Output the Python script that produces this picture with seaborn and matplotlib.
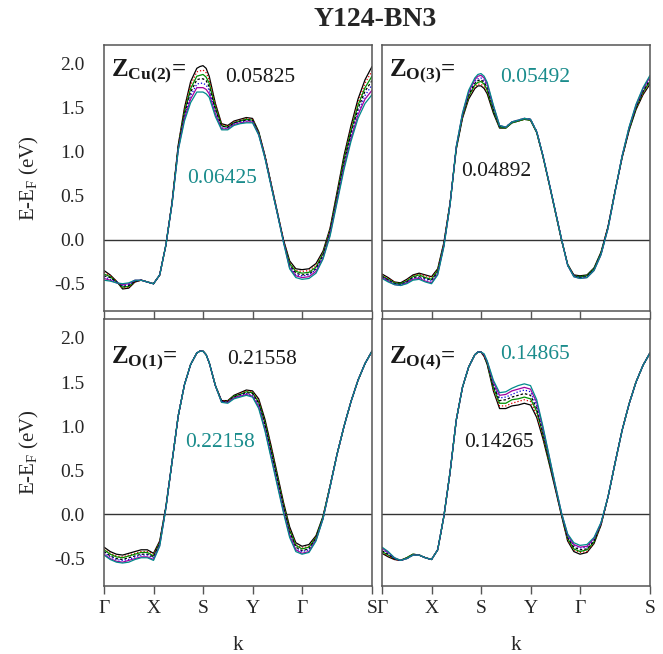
import numpy as np
import pandas as pd
import matplotlib
matplotlib.use("Agg")
import matplotlib.pyplot as plt
import seaborn as sns

# k-path positions: Γ-X-S-Y-Γ-S (Γ-X = 1, Γ-S diagonal = √2)
K_PATH = [0.0, 0.125, 0.25, 0.375, 0.5, 0.625, 0.75, 0.875,
          1.0, 1.125, 1.25, 1.375, 1.5, 1.625, 1.75, 1.875, 1.9375,
          2.0, 2.0625, 2.125, 2.25, 2.375, 2.5, 2.625, 2.75, 2.875,
          3.0, 3.125, 3.25, 3.375, 3.5, 3.625, 3.75, 3.875,
          4.0, 4.141, 4.283, 4.424, 4.566, 4.707, 4.849, 4.990,
          5.131, 5.273, 5.414]
K_TICKS = [0.0, 1.0, 2.0, 3.0, 4.0, 5.414]
K_LABELS = ["Γ", "X", "S", "Y", "Γ", "S"]

# Z parameters for each site (one band per value)
Z_CU2 = ["0.05825", "0.05925", "0.06025", "0.06125", "0.06225", "0.06325", "0.06425"]
Z_O3 = ["0.04892", "0.04992", "0.05092", "0.05192", "0.05292", "0.05392", "0.05492"]
Z_O1 = ["0.21558", "0.21658", "0.21758", "0.21858", "0.21958", "0.22058", "0.22158"]
Z_O4 = ["0.14265", "0.14365", "0.14465", "0.14565", "0.14665", "0.14765", "0.14865"]

# E - E_F (eV); one row per k point, one column per Z value
E_CU2 = [
    [-0.35, -0.37, -0.39, -0.41, -0.42, -0.44, -0.46],
    [-0.40, -0.41, -0.42, -0.43, -0.45, -0.46, -0.47],
    [-0.47, -0.47, -0.48, -0.48, -0.48, -0.49, -0.49],
    [-0.56, -0.55, -0.54, -0.53, -0.52, -0.51, -0.50],
    [-0.55, -0.54, -0.53, -0.52, -0.51, -0.50, -0.49],
    [-0.48, -0.48, -0.47, -0.47, -0.47, -0.46, -0.46],
    [-0.46, -0.46, -0.46, -0.46, -0.46, -0.46, -0.46],
    [-0.48, -0.48, -0.48, -0.48, -0.48, -0.48, -0.48],
    [-0.50, -0.50, -0.50, -0.50, -0.50, -0.50, -0.50],
    [-0.40, -0.40, -0.40, -0.40, -0.40, -0.40, -0.40],
    [-0.06, -0.06, -0.06, -0.06, -0.06, -0.06, -0.06],
    [0.43, 0.43, 0.42, 0.42, 0.42, 0.41, 0.41],
    [1.08, 1.07, 1.06, 1.05, 1.04, 1.03, 1.02],
    [1.50, 1.48, 1.45, 1.43, 1.40, 1.38, 1.35],
    [1.80, 1.76, 1.72, 1.68, 1.64, 1.60, 1.56],
    [1.95, 1.91, 1.86, 1.82, 1.77, 1.73, 1.68],
    [1.97, 1.92, 1.87, 1.83, 1.78, 1.73, 1.68],
    [1.98, 1.93, 1.88, 1.83, 1.78, 1.73, 1.68],
    [1.95, 1.90, 1.85, 1.81, 1.76, 1.71, 1.66],
    [1.86, 1.82, 1.78, 1.74, 1.70, 1.66, 1.62],
    [1.55, 1.53, 1.50, 1.48, 1.45, 1.43, 1.40],
    [1.32, 1.31, 1.30, 1.29, 1.27, 1.26, 1.25],
    [1.30, 1.29, 1.28, 1.28, 1.27, 1.26, 1.25],
    [1.35, 1.34, 1.33, 1.33, 1.32, 1.31, 1.30],
    [1.37, 1.36, 1.35, 1.35, 1.34, 1.33, 1.32],
    [1.39, 1.38, 1.37, 1.36, 1.35, 1.34, 1.33],
    [1.38, 1.37, 1.36, 1.36, 1.35, 1.34, 1.33],
    [1.23, 1.22, 1.22, 1.21, 1.20, 1.20, 1.19],
    [0.96, 0.96, 0.95, 0.95, 0.94, 0.94, 0.93],
    [0.64, 0.64, 0.63, 0.63, 0.62, 0.62, 0.61],
    [0.32, 0.32, 0.31, 0.31, 0.31, 0.30, 0.30],
    [0.00, 0.00, -0.01, -0.01, -0.02, -0.02, -0.03],
    [-0.24, -0.26, -0.27, -0.29, -0.30, -0.32, -0.33],
    [-0.33, -0.35, -0.36, -0.38, -0.40, -0.41, -0.43],
    [-0.34, -0.36, -0.38, -0.40, -0.41, -0.43, -0.45],
    [-0.33, -0.35, -0.37, -0.39, -0.40, -0.42, -0.44],
    [-0.27, -0.29, -0.31, -0.33, -0.34, -0.36, -0.38],
    [-0.13, -0.15, -0.16, -0.18, -0.19, -0.21, -0.22],
    [0.13, 0.12, 0.10, 0.09, 0.07, 0.06, 0.04],
    [0.54, 0.52, 0.50, 0.48, 0.46, 0.44, 0.42],
    [0.96, 0.93, 0.91, 0.88, 0.85, 0.83, 0.80],
    [1.30, 1.27, 1.24, 1.21, 1.18, 1.15, 1.12],
    [1.60, 1.56, 1.53, 1.49, 1.45, 1.42, 1.38],
    [1.82, 1.78, 1.73, 1.69, 1.64, 1.60, 1.55],
    [1.97, 1.92, 1.86, 1.81, 1.76, 1.70, 1.65],
]

E_O3 = [
    [-0.39, -0.40, -0.41, -0.42, -0.42, -0.43, -0.44],
    [-0.43, -0.44, -0.45, -0.46, -0.46, -0.47, -0.48],
    [-0.48, -0.48, -0.49, -0.50, -0.50, -0.51, -0.51],
    [-0.49, -0.50, -0.50, -0.51, -0.51, -0.52, -0.52],
    [-0.45, -0.46, -0.47, -0.48, -0.48, -0.49, -0.50],
    [-0.40, -0.41, -0.42, -0.43, -0.44, -0.45, -0.46],
    [-0.38, -0.39, -0.40, -0.42, -0.43, -0.44, -0.45],
    [-0.40, -0.41, -0.43, -0.44, -0.45, -0.47, -0.48],
    [-0.42, -0.43, -0.45, -0.46, -0.47, -0.49, -0.50],
    [-0.33, -0.34, -0.35, -0.37, -0.38, -0.39, -0.40],
    [-0.03, -0.04, -0.05, -0.06, -0.06, -0.07, -0.08],
    [0.42, 0.42, 0.41, 0.41, 0.41, 0.40, 0.40],
    [1.03, 1.04, 1.04, 1.05, 1.05, 1.06, 1.06],
    [1.38, 1.39, 1.40, 1.41, 1.42, 1.43, 1.44],
    [1.60, 1.62, 1.63, 1.65, 1.67, 1.68, 1.70],
    [1.72, 1.74, 1.76, 1.78, 1.80, 1.82, 1.84],
    [1.75, 1.77, 1.79, 1.81, 1.83, 1.86, 1.88],
    [1.75, 1.77, 1.80, 1.82, 1.84, 1.87, 1.89],
    [1.72, 1.74, 1.77, 1.79, 1.81, 1.84, 1.86],
    [1.66, 1.68, 1.70, 1.73, 1.75, 1.77, 1.79],
    [1.44, 1.46, 1.47, 1.49, 1.50, 1.52, 1.53],
    [1.27, 1.28, 1.28, 1.29, 1.29, 1.30, 1.30],
    [1.27, 1.27, 1.27, 1.28, 1.28, 1.28, 1.28],
    [1.33, 1.33, 1.33, 1.34, 1.34, 1.34, 1.34],
    [1.35, 1.35, 1.35, 1.36, 1.36, 1.36, 1.36],
    [1.37, 1.37, 1.37, 1.38, 1.38, 1.38, 1.38],
    [1.36, 1.36, 1.36, 1.37, 1.37, 1.37, 1.37],
    [1.22, 1.22, 1.22, 1.23, 1.23, 1.23, 1.23],
    [0.95, 0.95, 0.95, 0.96, 0.96, 0.96, 0.96],
    [0.64, 0.64, 0.64, 0.65, 0.65, 0.65, 0.65],
    [0.32, 0.32, 0.32, 0.33, 0.33, 0.33, 0.33],
    [0.00, 0.00, 0.00, 0.01, 0.01, 0.01, 0.01],
    [-0.28, -0.28, -0.28, -0.29, -0.29, -0.29, -0.29],
    [-0.40, -0.40, -0.41, -0.41, -0.41, -0.42, -0.42],
    [-0.41, -0.42, -0.42, -0.43, -0.43, -0.44, -0.44],
    [-0.40, -0.41, -0.41, -0.42, -0.42, -0.43, -0.43],
    [-0.32, -0.33, -0.33, -0.34, -0.34, -0.35, -0.35],
    [-0.14, -0.15, -0.15, -0.16, -0.16, -0.17, -0.17],
    [0.15, 0.15, 0.14, 0.14, 0.14, 0.13, 0.13],
    [0.55, 0.55, 0.55, 0.55, 0.54, 0.54, 0.54],
    [0.93, 0.93, 0.94, 0.94, 0.94, 0.95, 0.95],
    [1.24, 1.25, 1.25, 1.26, 1.27, 1.27, 1.28],
    [1.48, 1.49, 1.50, 1.51, 1.52, 1.53, 1.54],
    [1.65, 1.66, 1.68, 1.69, 1.70, 1.72, 1.73],
    [1.77, 1.79, 1.80, 1.82, 1.84, 1.85, 1.87],
]

E_O1 = [
    [-0.37, -0.39, -0.40, -0.42, -0.43, -0.45, -0.46],
    [-0.42, -0.44, -0.45, -0.47, -0.48, -0.50, -0.51],
    [-0.45, -0.47, -0.48, -0.50, -0.51, -0.53, -0.54],
    [-0.46, -0.48, -0.49, -0.51, -0.52, -0.54, -0.55],
    [-0.44, -0.46, -0.47, -0.49, -0.51, -0.52, -0.54],
    [-0.42, -0.44, -0.45, -0.47, -0.48, -0.50, -0.51],
    [-0.40, -0.42, -0.43, -0.45, -0.46, -0.48, -0.49],
    [-0.40, -0.42, -0.43, -0.45, -0.46, -0.48, -0.49],
    [-0.44, -0.45, -0.47, -0.48, -0.49, -0.51, -0.52],
    [-0.30, -0.31, -0.32, -0.33, -0.34, -0.35, -0.36],
    [0.09, 0.09, 0.08, 0.08, 0.08, 0.07, 0.07],
    [0.60, 0.60, 0.60, 0.60, 0.60, 0.60, 0.60],
    [1.12, 1.12, 1.12, 1.12, 1.12, 1.12, 1.12],
    [1.47, 1.47, 1.47, 1.47, 1.47, 1.47, 1.47],
    [1.70, 1.70, 1.70, 1.70, 1.70, 1.70, 1.70],
    [1.83, 1.83, 1.83, 1.83, 1.83, 1.83, 1.83],
    [1.85, 1.85, 1.85, 1.85, 1.85, 1.85, 1.85],
    [1.85, 1.85, 1.85, 1.85, 1.85, 1.85, 1.85],
    [1.81, 1.81, 1.81, 1.81, 1.81, 1.81, 1.81],
    [1.72, 1.72, 1.72, 1.72, 1.72, 1.72, 1.72],
    [1.46, 1.46, 1.46, 1.46, 1.46, 1.46, 1.46],
    [1.29, 1.29, 1.28, 1.28, 1.28, 1.27, 1.27],
    [1.29, 1.29, 1.28, 1.28, 1.27, 1.27, 1.26],
    [1.35, 1.34, 1.34, 1.33, 1.32, 1.32, 1.31],
    [1.38, 1.37, 1.36, 1.36, 1.35, 1.34, 1.33],
    [1.41, 1.40, 1.39, 1.38, 1.37, 1.36, 1.35],
    [1.40, 1.39, 1.38, 1.37, 1.35, 1.34, 1.33],
    [1.31, 1.29, 1.27, 1.26, 1.24, 1.22, 1.20],
    [1.08, 1.06, 1.04, 1.02, 0.99, 0.97, 0.95],
    [0.78, 0.76, 0.73, 0.71, 0.69, 0.66, 0.64],
    [0.46, 0.44, 0.42, 0.40, 0.37, 0.35, 0.33],
    [0.14, 0.12, 0.10, 0.08, 0.06, 0.04, 0.02],
    [-0.14, -0.16, -0.18, -0.20, -0.22, -0.24, -0.26],
    [-0.32, -0.34, -0.35, -0.37, -0.39, -0.40, -0.42],
    [-0.36, -0.38, -0.39, -0.41, -0.42, -0.44, -0.45],
    [-0.34, -0.36, -0.37, -0.39, -0.40, -0.42, -0.43],
    [-0.24, -0.25, -0.26, -0.27, -0.28, -0.29, -0.30],
    [-0.02, -0.03, -0.03, -0.04, -0.04, -0.05, -0.05],
    [0.32, 0.32, 0.32, 0.32, 0.31, 0.31, 0.31],
    [0.68, 0.68, 0.68, 0.68, 0.68, 0.68, 0.68],
    [1.00, 1.00, 1.00, 1.00, 1.00, 1.00, 1.00],
    [1.28, 1.28, 1.28, 1.28, 1.28, 1.28, 1.28],
    [1.52, 1.52, 1.52, 1.52, 1.52, 1.52, 1.52],
    [1.71, 1.71, 1.71, 1.71, 1.71, 1.71, 1.71],
    [1.85, 1.85, 1.85, 1.85, 1.85, 1.85, 1.85],
]

E_O4 = [
    [-0.44, -0.43, -0.42, -0.41, -0.39, -0.38, -0.37],
    [-0.48, -0.47, -0.46, -0.45, -0.44, -0.43, -0.42],
    [-0.51, -0.51, -0.50, -0.50, -0.50, -0.49, -0.49],
    [-0.52, -0.52, -0.52, -0.52, -0.52, -0.52, -0.52],
    [-0.49, -0.49, -0.49, -0.50, -0.50, -0.50, -0.50],
    [-0.45, -0.45, -0.45, -0.46, -0.46, -0.46, -0.46],
    [-0.46, -0.46, -0.46, -0.46, -0.46, -0.46, -0.46],
    [-0.49, -0.49, -0.49, -0.49, -0.49, -0.49, -0.49],
    [-0.51, -0.51, -0.51, -0.51, -0.51, -0.51, -0.51],
    [-0.40, -0.40, -0.40, -0.40, -0.40, -0.40, -0.40],
    [-0.02, -0.02, -0.02, -0.02, -0.02, -0.02, -0.02],
    [0.48, 0.48, 0.48, 0.48, 0.48, 0.48, 0.48],
    [1.07, 1.07, 1.07, 1.07, 1.07, 1.07, 1.07],
    [1.44, 1.44, 1.44, 1.44, 1.44, 1.44, 1.44],
    [1.67, 1.67, 1.67, 1.67, 1.67, 1.67, 1.67],
    [1.81, 1.81, 1.81, 1.81, 1.81, 1.81, 1.81],
    [1.84, 1.84, 1.84, 1.84, 1.84, 1.84, 1.84],
    [1.84, 1.84, 1.84, 1.84, 1.84, 1.84, 1.84],
    [1.79, 1.79, 1.80, 1.80, 1.81, 1.81, 1.82],
    [1.70, 1.71, 1.71, 1.72, 1.73, 1.73, 1.74],
    [1.40, 1.42, 1.44, 1.46, 1.48, 1.50, 1.52],
    [1.20, 1.23, 1.26, 1.29, 1.32, 1.35, 1.38],
    [1.20, 1.23, 1.26, 1.30, 1.33, 1.36, 1.39],
    [1.23, 1.26, 1.30, 1.33, 1.36, 1.40, 1.43],
    [1.24, 1.28, 1.31, 1.35, 1.39, 1.42, 1.46],
    [1.26, 1.30, 1.33, 1.37, 1.41, 1.44, 1.48],
    [1.24, 1.28, 1.31, 1.35, 1.39, 1.42, 1.46],
    [1.10, 1.13, 1.17, 1.20, 1.23, 1.27, 1.30],
    [0.86, 0.88, 0.91, 0.93, 0.95, 0.98, 1.00],
    [0.58, 0.60, 0.61, 0.63, 0.64, 0.66, 0.67],
    [0.29, 0.30, 0.31, 0.32, 0.32, 0.33, 0.34],
    [-0.01, -0.01, 0.00, 0.01, 0.01, 0.02, 0.02],
    [-0.30, -0.29, -0.27, -0.26, -0.25, -0.23, -0.22],
    [-0.42, -0.40, -0.39, -0.37, -0.35, -0.34, -0.32],
    [-0.45, -0.43, -0.42, -0.40, -0.38, -0.37, -0.35],
    [-0.43, -0.42, -0.40, -0.39, -0.37, -0.36, -0.34],
    [-0.33, -0.32, -0.31, -0.30, -0.28, -0.27, -0.26],
    [-0.12, -0.12, -0.11, -0.11, -0.10, -0.10, -0.09],
    [0.20, 0.20, 0.20, 0.20, 0.20, 0.20, 0.20],
    [0.58, 0.58, 0.58, 0.58, 0.58, 0.58, 0.58],
    [0.95, 0.95, 0.95, 0.95, 0.95, 0.95, 0.95],
    [1.25, 1.25, 1.25, 1.25, 1.25, 1.25, 1.25],
    [1.50, 1.50, 1.50, 1.50, 1.50, 1.50, 1.50],
    [1.69, 1.69, 1.69, 1.69, 1.69, 1.69, 1.69],
    [1.83, 1.83, 1.83, 1.83, 1.83, 1.83, 1.83],
]

LINE_COLORS = ["black", "#e00000", "#009000", "black", "#0000e0", "#a000a0", "#008b8b"]
LINE_DASHES = ["", (1, 1.6), "", (2, 1.6), (1, 1.6), "", ""]
TEAL = "#1a8c8c"
FRAME = "#555555"

sns.set_theme(style="white")
plt.rcParams["font.family"] = ["Liberation Serif", "DejaVu Serif"]
plt.rcParams["mathtext.fontset"] = "custom"
plt.rcParams["mathtext.rm"] = "Liberation Serif"
plt.rcParams["mathtext.bf"] = "Liberation Serif:bold"
plt.rcParams["mathtext.it"] = "Liberation Serif:italic"

fig = plt.figure(figsize=(6.63, 6.54), dpi=100)
fig.patch.set_facecolor("white")

boxes = {
    "tl": [0.1569, 0.5245, 0.4042, 0.4067],
    "tr": [0.5762, 0.5245, 0.4042, 0.4067],
    "bl": [0.1569, 0.1040, 0.4042, 0.4083],
    "br": [0.5762, 0.1040, 0.4042, 0.4083],
}

panels = [
    # key, table, z values, site label, label height, first-Z text, last-Z text
    ("tl", E_CU2, Z_CU2, r"$\mathbf{Z}_{\mathbf{Cu(2)}}$=", 1.86, (2.44, 1.79), (1.68, 0.64)),
    ("tr", E_O3, Z_O3, r"$\mathbf{Z}_{\mathbf{O(3)}}$=", 1.86, (1.59, 0.72), (2.39, 1.79)),
    ("bl", E_O1, Z_O1, r"$\mathbf{Z}_{\mathbf{O(1)}}$=", 1.72, (2.48, 1.71), (1.64, 0.77)),
    ("br", E_O4, Z_O4, r"$\mathbf{Z}_{\mathbf{O(4)}}$=", 1.72, (1.65, 0.77), (2.39, 1.76)),
]

for key, table, zvals, site, site_y, pos_first, pos_last in panels:
    ax = fig.add_axes(boxes[key])
    arr = np.array(table)
    frames = []
    for j, z in enumerate(zvals):
        frames.append(pd.DataFrame({"k": K_PATH, "E": arr[:, j], "Z": z}))
    df = pd.concat(frames, ignore_index=True)
    sns.lineplot(data=df, x="k", y="E", hue="Z", style="Z",
                 palette=dict(zip(zvals, LINE_COLORS)),
                 dashes=dict(zip(zvals, LINE_DASHES)),
                 estimator=None, sort=False, legend=False,
                 linewidth=0.9, ax=ax)
    ax.axhline(0.0, color="#333333", lw=1.0, zorder=0)

    ax.set_xlim(0.0, 5.414)
    ax.set_ylim(-0.81, 2.215)
    ax.set_yticks([-0.5, 0.0, 0.5, 1.0, 1.5, 2.0])
    ax.set_xticks(K_TICKS)
    for sp in ax.spines.values():
        sp.set_color(FRAME)
        sp.set_linewidth(1.1)
    ax.tick_params(axis="both", direction="out", length=6, width=1.0,
                   color=FRAME, labelsize=14, pad=4)
    ax.set_xlabel("")
    ax.set_ylabel("")

    is_left = key in ("tl", "bl")
    is_bottom = key in ("bl", "br")
    if is_left:
        ax.set_yticklabels(["-0.5", "0.0", "0.5", "1.0", "1.5", "2.0"])
        ax.tick_params(axis="y", pad=8)
    else:
        ax.set_yticklabels([])
    if is_bottom:
        ax.set_xticklabels(K_LABELS)
        ax.tick_params(axis="x", bottom=True, top=True, labelbottom=True)
        ax.set_xlabel("k", fontsize=15, labelpad=14)
    else:
        ax.tick_params(axis="x", bottom=False, top=False, labelbottom=False)

    ax.text(0.15, site_y, site, fontsize=18, fontweight="bold",
            color="#1a1a1a", va="baseline", ha="left")
    ax.text(pos_first[0], pos_first[1], zvals[0], fontsize=15.5,
            color="#1a1a1a", va="baseline", ha="left")
    ax.text(pos_last[0], pos_last[1], zvals[-1], fontsize=15.5,
            color=TEAL, va="baseline", ha="left")

fig.text(0.045, 0.728, r"E-E$_\mathrm{F}$ (eV)", rotation=90, fontsize=15,
         ha="center", va="center")
fig.text(0.045, 0.308, r"E-E$_\mathrm{F}$ (eV)", rotation=90, fontsize=15,
         ha="center", va="center")
fig.text(0.566, 0.970, "Y124-BN3", fontsize=20, fontweight="bold",
         ha="center", va="center")

fig.savefig("out.png", dpi=100, facecolor="white")
